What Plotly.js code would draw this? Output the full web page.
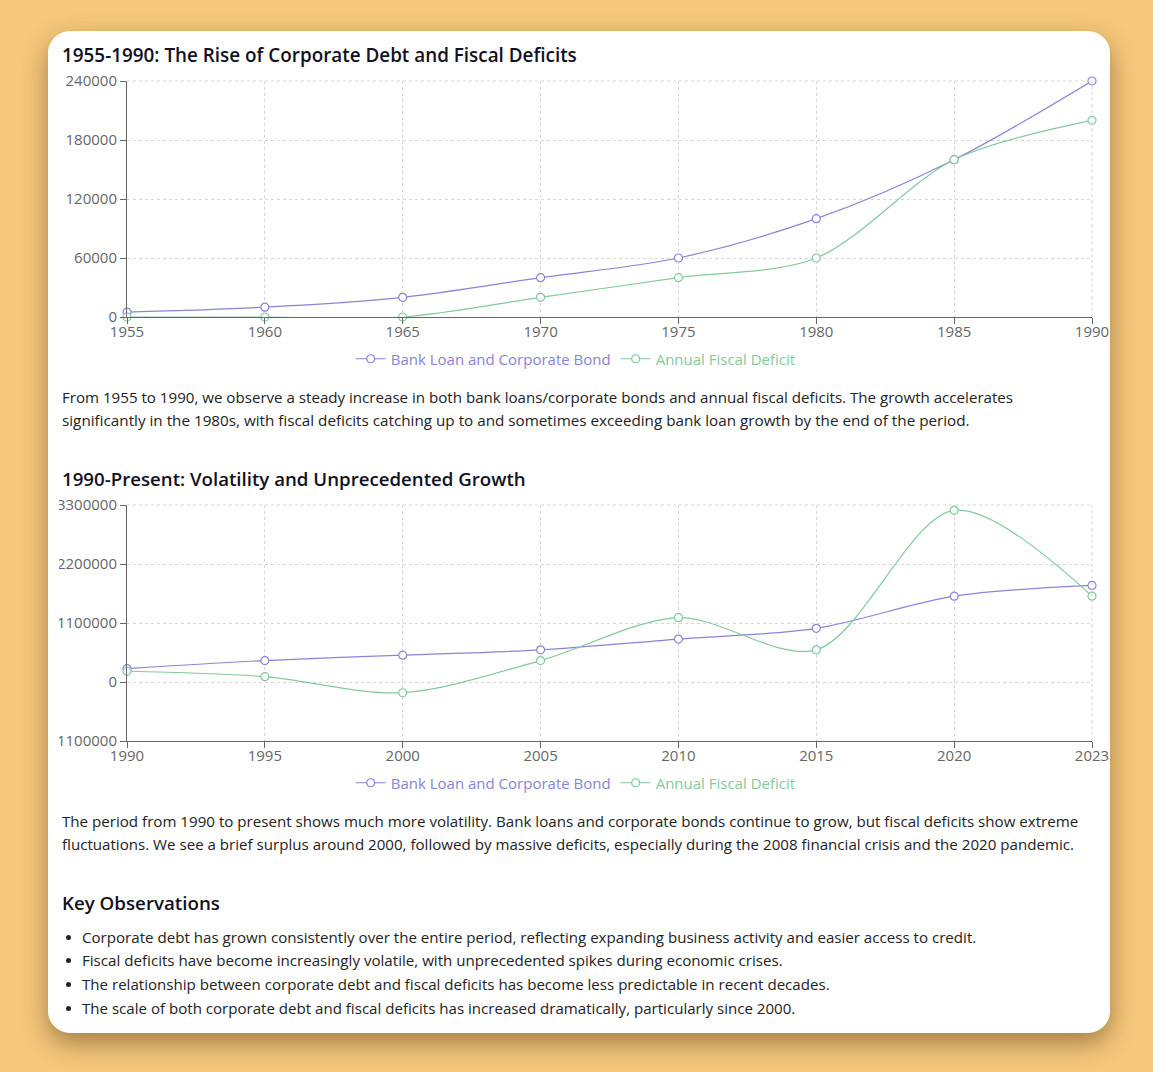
<!DOCTYPE html>
<html>
<head>
<meta charset="utf-8">
<script src="https://cdn.plot.ly/plotly-3.0.1.min.js"></script>
<style>
  html, body { margin:0; padding:0; }
  body { width:1153px; height:1072px; background:#f6c87c; position:relative; overflow:hidden;
         font-family:"Open Sans","Noto Sans",sans-serif; }
  .card { position:absolute; left:48px; top:31px; width:1062px; height:1002px; background:#fff;
          border-radius:22px; box-shadow:0 10px 26px rgba(60,35,0,0.45); }
  .t { position:absolute; white-space:nowrap; left:62px; }
  .h { font-weight:600; color:#111122; font-size:19px; line-height:26px; }
  .p { color:#222; font-size:15px; line-height:22px; }
  .b { left:82px; }
  .dot { position:absolute; left:66px; width:5px; height:5px; border-radius:50%; background:#222; }
  .chart { position:absolute; left:59px; width:1063px; height:340px; overflow:hidden; }
</style>
</head>
<body>
<div class="card"></div>

<div class="t h" data-cy="55" data-w="515">1955-1990: The Rise of Corporate Debt and Fiscal Deficits</div>
<div id="c1" class="chart" style="top:51px"></div>
<div class="t p" data-cy="397" data-w="952">From 1955 to 1990, we observe a steady increase in both bank loans/corporate bonds and annual fiscal deficits. The growth accelerates</div>
<div class="t p" data-cy="420" data-w="908">significantly in the 1980s, with fiscal deficits catching up to and sometimes exceeding bank loan growth by the end of the period.</div>

<div class="t h" data-cy="479" data-w="464">1990-Present: Volatility and Unprecedented Growth</div>
<div id="c2" class="chart" style="top:475px"></div>
<div class="t p" data-cy="821" data-w="1017">The period from 1990 to present shows much more volatility. Bank loans and corporate bonds continue to grow, but fiscal deficits show extreme</div>
<div class="t p" data-cy="844" data-w="1012">fluctuations. We see a brief surplus around 2000, followed by massive deficits, especially during the 2008 financial crisis and the 2020 pandemic.</div>

<div class="t h" data-cy="903" data-w="158">Key Observations</div>
<div class="dot" style="top:935px"></div>
<div class="t p b" data-cy="937" data-w="895">Corporate debt has grown consistently over the entire period, reflecting expanding business activity and easier access to credit.</div>
<div class="dot" style="top:958px"></div>
<div class="t p b" data-cy="960" data-w="701">Fiscal deficits have become increasingly volatile, with unprecedented spikes during economic crises.</div>
<div class="dot" style="top:982px"></div>
<div class="t p b" data-cy="984" data-w="748">The relationship between corporate debt and fiscal deficits has become less predictable in recent decades.</div>
<div class="dot" style="top:1006px"></div>
<div class="t p b" data-cy="1008" data-w="714">The scale of both corporate debt and fiscal deficits has increased dramatically, particularly since 2000.</div>

<script>
// ---- data ----
const seriesNames = ['Bank Loan and Corporate Bond', 'Annual Fiscal Deficit'];
const years1 = ['1955','1960','1965','1970','1975','1980','1985','1990'];
const bank1 = [5000, 10000, 20000, 40000, 60000, 100000, 160000, 240000];
const fiscal1 = [0, 0, 0, 20000, 40000, 60000, 160000, 200000];
const yTicks1 = [0, 60000, 120000, 180000, 240000];

const years2 = ['1990','1995','2000','2005','2010','2015','2020','2023'];
const bank2 = [250000, 400000, 500000, 600000, 800000, 1000000, 1600000, 1800000];
const fiscal2 = [200000, 100000, -200000, 400000, 1200000, 600000, 3200000, 1600000];
const yTicks2 = [-1100000, 0, 1100000, 2200000, 3300000];

const colors = ['#8884d8', '#82ca9d'];

// ---- text fitting ----
document.querySelectorAll('.t').forEach(el => {
  const target = +el.dataset.w;
  const fs = parseFloat(getComputedStyle(el).fontSize);
  const w = el.getBoundingClientRect().width;
  el.style.fontSize = (fs * target / w).toFixed(2) + 'px';
  const lh = parseFloat(getComputedStyle(el).lineHeight);
  el.style.top = (+el.dataset.cy - lh / 2) + 'px';
});

function trace(x, y, i) {
  return {
    x: x, y: y, type: 'scatter', mode: 'lines+markers',
    name: '<span style="color:' + colors[i] + '">' + seriesNames[i] + '</span>',
    line: { color: colors[i], width: 1.2, shape: 'spline', smoothing: 0.9 },
    marker: { size: 8, color: '#fff', line: { color: colors[i], width: 1.2 } },
    cliponaxis: false
  };
}

function layout(yTicks) {
  return {
    width: 1063, height: 340,
    margin: { l: 68, r: 30, t: 30, b: 74, autoexpand: false },
    paper_bgcolor: 'rgba(0,0,0,0)', plot_bgcolor: 'rgba(0,0,0,0)',
    font: { family: 'Open Sans, Noto Sans, sans-serif', size: 15, color: '#666' },
    showlegend: true,
    legend: { orientation: 'h', x: 0.465, xanchor: 'center', y: -0.178, yanchor: 'middle',
              font: { size: 15 }, itemwidth: 30, tracegroupgap: 0 },
    xaxis: {
      type: 'category', range: [0, 7], showgrid: true, gridcolor: '#d6d6d6', griddash: '3px,3px',
      showline: true, linecolor: '#666', linewidth: 1, ticks: 'outside', ticklen: 6, tickcolor: '#666',
      ticklabelstandoff: -5, automargin: false,
      tickfont: { size: 15, color: '#666' }, zeroline: false, fixedrange: true
    },
    yaxis: {
      range: [yTicks[0], yTicks[yTicks.length - 1]], tickmode: 'array', tickvals: yTicks,
      ticktext: yTicks.map(v => String(v)), automargin: false,
      showgrid: true, gridcolor: '#d6d6d6', griddash: '3px,3px',
      showline: true, linecolor: '#666', linewidth: 1, ticks: 'outside', ticklen: 6, tickcolor: '#666',
      tickfont: { size: 15, color: '#666' }, zeroline: false, fixedrange: true
    }
  };
}

function borderShapes() {
  return [
    { type: 'line', xref: 'paper', yref: 'paper', x0: 0, x1: 1, y0: 1, y1: 1, line: { color: '#d6d6d6', width: 1, dash: '3px,3px' } },
    { type: 'line', xref: 'paper', yref: 'paper', x0: 1, x1: 1, y0: 0, y1: 1, line: { color: '#d6d6d6', width: 1, dash: '3px,3px' } }
  ];
}

const l1 = layout(yTicks1); l1.shapes = borderShapes();
const l2 = layout(yTicks2); l2.shapes = borderShapes();

Plotly.newPlot('c1', [trace(years1, bank1, 0), trace(years1, fiscal1, 1)], l1, { staticPlot: true, displayModeBar: false });
Plotly.newPlot('c2', [trace(years2, bank2, 0), trace(years2, fiscal2, 1)], l2, { staticPlot: true, displayModeBar: false });
</script>
</body>
</html>
